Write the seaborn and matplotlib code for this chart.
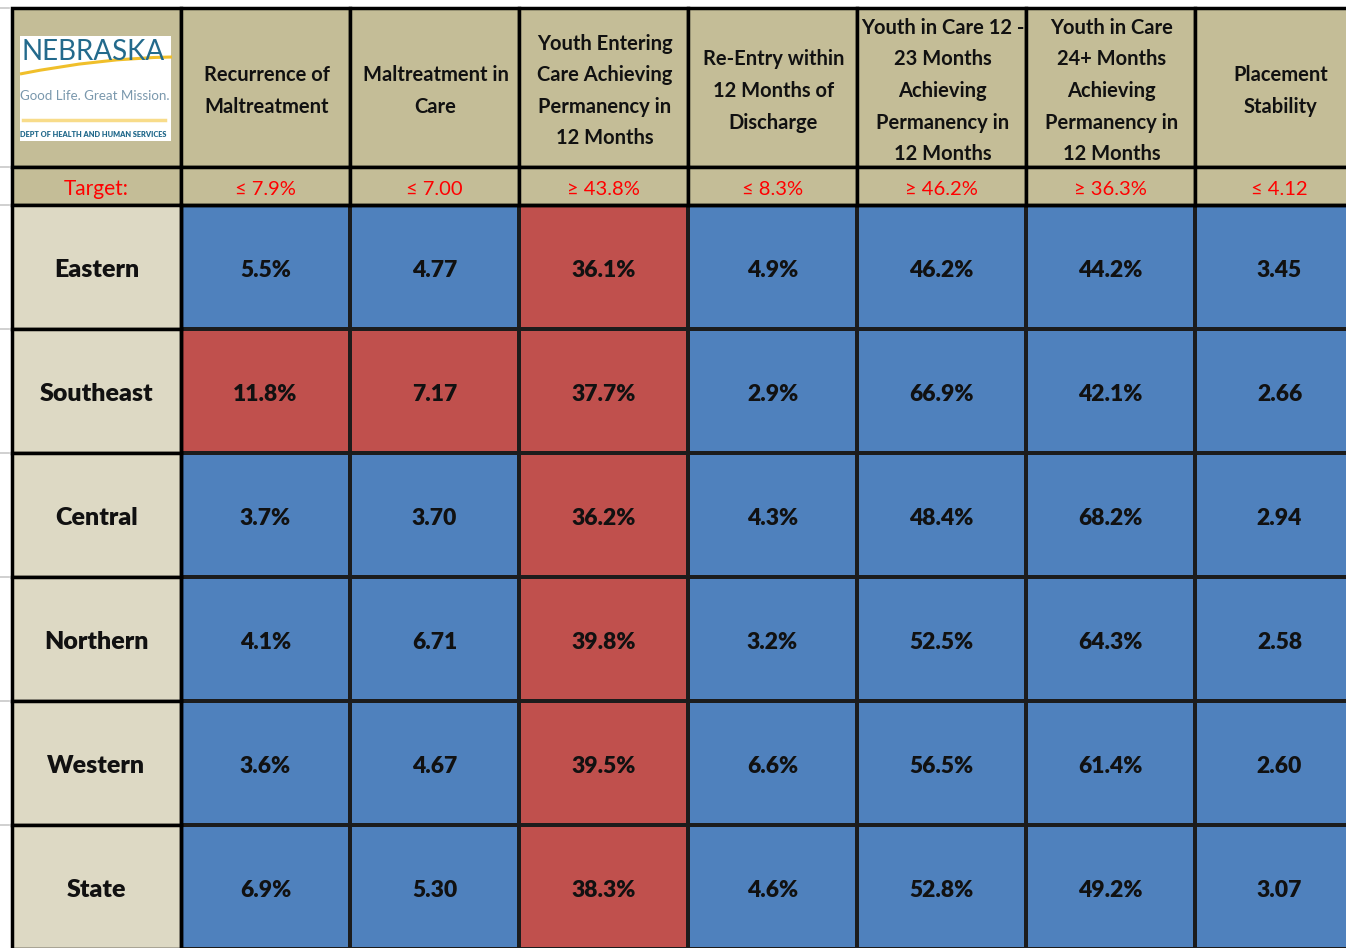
import numpy as np
import pandas as pd
import matplotlib.pyplot as plt
import seaborn as sns
from matplotlib.colors import ListedColormap
from matplotlib.patches import Rectangle, PathPatch
from matplotlib.path import Path

# Data read from the scorecard
regions = ["Eastern", "Southeast", "Central", "Northern", "Western", "State"]
measures = [
    "Recurrence of\nMaltreatment",
    "Maltreatment in\nCare",
    "Youth Entering\nCare Achieving\nPermanency in\n12 Months",
    "Re-Entry within\n12 Months of\nDischarge",
    "Youth in Care 12 -\n23 Months\nAchieving\nPermanency in\n12 Months",
    "Youth in Care\n24+ Months\nAchieving\nPermanency in\n12 Months",
    "Placement\nStability",
]
targets = [7.9, 7.00, 43.8, 8.3, 46.2, 36.3, 4.12]
target_dirs = ["le", "le", "ge", "le", "ge", "ge", "le"]
is_pct = [True, False, True, True, True, True, False]

recurrence = [5.5, 11.8, 3.7, 4.1, 3.6, 6.9]
maltreatment_in_care = [4.77, 7.17, 3.70, 6.71, 4.67, 5.30]
entering_perm = [36.1, 37.7, 36.2, 39.8, 39.5, 38.3]
reentry = [4.9, 2.9, 4.3, 3.2, 6.6, 4.6]
care_12_23 = [46.2, 66.9, 48.4, 52.5, 56.5, 52.8]
care_24 = [44.2, 42.1, 68.2, 64.3, 61.4, 49.2]
stability = [3.45, 2.66, 2.94, 2.58, 2.60, 3.07]

df = pd.DataFrame(
    np.column_stack([recurrence, maltreatment_in_care, entering_perm, reentry,
                     care_12_23, care_24, stability]),
    index=regions,
)

# pass / fail against target
status = np.zeros(df.shape)
labels = np.empty(df.shape, dtype=object)
for j in range(df.shape[1]):
    col = df.iloc[:, j].values
    if target_dirs[j] == "le":
        status[:, j] = col <= targets[j]
    else:
        status[:, j] = col >= targets[j]
    for i, v in enumerate(col):
        labels[i, j] = f"{v:.1f}%" if is_pct[j] else f"{v:.2f}"

target_labels = []
for t, d, p in zip(targets, target_dirs, is_pct):
    sign = "≤" if d == "le" else "≥"
    target_labels.append(f"{sign} {t:.1f}%" if p else f"{sign} {t:.2f}")

# colours
BLUE = "#4f81bd"
RED = "#c0504d"
TAN = "#c4bd97"
LIGHT = "#ddd9c4"
TEAL = "#236a8c"
FONT = ["Lato", "DejaVu Sans"]

W, H = 1346, 948
x0, xlab = 12, 181
col_w = 169
y0, y_head, y_tgt = 8, 167, 205
row_h = 124

fig = plt.figure(figsize=(W / 100, H / 100), dpi=100)
fig.patch.set_facecolor("white")

# data cells as a heatmap
n_cols = len(measures)
hm_ax = fig.add_axes([xlab / W, (H - (y_tgt + row_h * 6)) / H,
                      col_w * n_cols / W, row_h * 6 / H])
sns.heatmap(status, ax=hm_ax, cmap=ListedColormap([RED, BLUE]), vmin=0, vmax=1,
            annot=labels, fmt="", cbar=False, linewidths=1.6, linecolor="#1c1c1c",
            annot_kws={"fontsize": 16.5, "fontweight": "heavy", "color": "#111111",
                       "family": FONT})
hm_ax.set_xticks([])
hm_ax.set_yticks([])
for t in hm_ax.texts:
    x, y = t.get_position()
    t.set_position((x, y + 0.03))

# overlay axes in pixel coordinates for header, targets, row labels
ax = fig.add_axes([0, 0, 1, 1], zorder=3)
ax.set_xlim(0, W)
ax.set_ylim(H, 0)
ax.axis("off")
ax.patch.set_alpha(0)

# spreadsheet gutter marks
for yy in [y0, y_head, y_tgt] + [y_tgt + row_h * k for k in range(1, 7)]:
    ax.plot([0, 9], [yy, yy], color="#c8c8c8", lw=1.2)

# header row
ax.add_patch(Rectangle((x0, y0), xlab - x0, y_head - y0, fc=TAN, ec="black", lw=2.5))
for j, m in enumerate(measures):
    cx = xlab + j * col_w
    ax.add_patch(Rectangle((cx, y0), col_w, y_head - y0, fc=TAN, ec="black", lw=2.5))
    t = ax.text(cx + col_w / 2 + 1, 91, m, ha="center", va="center", fontsize=14.5,
                fontweight="bold", family=FONT, color="#111111", linespacing=1.72)
    t.set_clip_path(Rectangle((cx + 2, y0), col_w - 4, y_head - y0, transform=ax.transData))

# target row
ax.add_patch(Rectangle((x0, y_head), xlab - x0, y_tgt - y_head, fc=TAN, ec="black", lw=2.5))
ax.text((x0 + xlab) / 2, 189, "Target:", ha="center", va="center", fontsize=15,
        color="#ff0000", family=FONT)
for j, tl in enumerate(target_labels):
    cx = xlab + j * col_w
    ax.add_patch(Rectangle((cx, y_head), col_w, y_tgt - y_head, fc=TAN, ec="black", lw=2.5))
    ax.text(cx + col_w / 2, 189, tl, ha="center", va="center", fontsize=14.5,
            color="#ff0000", family=FONT)

# row labels
for i, r in enumerate(regions):
    ry = y_tgt + i * row_h
    ax.add_patch(Rectangle((x0, ry), xlab - x0, row_h, fc=LIGHT, ec="black", lw=2.5))
    ax.text((x0 + xlab) / 2, ry + row_h / 2 + 3, r, ha="center", va="center",
            fontsize=18, fontweight="heavy", family=FONT, color="#111111")

# thick separators between label column / header and the data block
ax.plot([xlab, xlab], [y_tgt, H], color="black", lw=2.5)
ax.plot([xlab, W], [y_tgt, y_tgt], color="black", lw=2.5)

# logo
logo_box = Rectangle((20, 36), 151, 105, fc="white", ec="none")
ax.add_patch(logo_box)
ax.text(93, 52, "NEBRASKA", ha="center", va="center", fontsize=20, color=TEAL,
        family=FONT)
swoosh = Path([(20, 74), (100, 58), (172, 57)], [Path.MOVETO, Path.CURVE3, Path.CURVE3])
ax.add_patch(PathPatch(swoosh, fc="none", ec="#f0bf2a", lw=2.2))
g = ax.text(95, 96, "Good Life. Great Mission.", ha="center", va="center", fontsize=9.6,
            color="#7a98ad", family=FONT)
g.set_clip_path(logo_box)
ax.plot([23, 165], [120, 120], color="#f8dc8a", lw=2.5)
ax.text(93, 134, "DEPT OF HEALTH AND HUMAN SERVICES", ha="center", va="center",
        fontsize=5.3, color=TEAL, family=FONT, fontweight="heavy")

fig.savefig("out.png", dpi=100)
